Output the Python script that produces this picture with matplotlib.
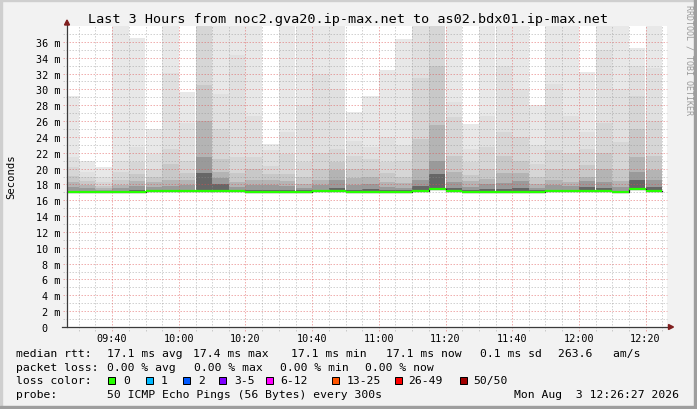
import numpy as np
import pandas as pd
import matplotlib
matplotlib.use("Agg")
import matplotlib.pyplot as plt
import matplotlib.dates as mdates
from matplotlib.patches import Rectangle, Polygon
from matplotlib.lines import Line2D

W, H = 697, 410
MONO = "DejaVu Sans Mono"

# ---- data ----
t_end = pd.Timestamp("2026-08-03 12:26:27")
t_begin = t_end - pd.Timedelta(hours=3)
slot_start = pd.date_range("2026-08-03 09:25", periods=36, freq="5min")

median_rtt = [17.06, 17.06, 17.06, 17.06, 17.06, 17.16, 17.16, 17.16, 17.2, 17.2,
              17.2, 17.08, 17.08, 17.08, 17.08, 17.18, 17.18, 17.08, 17.08, 17.08,
              17.08, 17.16, 17.42, 17.14, 17.08, 17.08, 17.08, 17.08, 17.08, 17.14,
              17.14, 17.14, 17.14, 17.04, 17.36, 17.14]
ping_min = [16.96, 16.96, 16.96, 16.96, 16.96, 17.06, 17.06, 17.06, 17.1, 17.1,
            17.1, 16.98, 16.98, 16.98, 16.98, 17.08, 17.08, 16.98, 16.98, 16.98,
            16.98, 17.06, 17.3, 17.04, 16.98, 16.98, 16.98, 16.98, 16.98, 17.04,
            17.04, 17.04, 17.04, 16.94, 17.26, 17.04]

# upper edges of the smoke bands, outermost (max ping) to innermost
smoke1 = [29.1, 20.9, 20.2, 39, 36.5, 25.0, 39, 29.7, 39, 39,
          39, 39, 23.1, 39, 39, 39, 39, 27.2, 29.1, 32.4,
          36.3, 39, 39, 39, 25.6, 39, 39, 39, 28.05, 39,
          39, 32.2, 39, 39, 35.2, 39]
smoke2 = [21.5, 19.6, 19.0, 21.0, 22.7, 21.8, 32.1, 25.8, 39, 29.4,
          34.4, 26.7, 22.3, 24.6, 28.0, 31.9, 30.0, 23.5, 22.7, 24.0,
          23.0, 38.0, 39, 28.4, 22.5, 26.7, 33.0, 30.0, 23.0, 30.7,
          26.7, 24.6, 35.0, 30.0, 33.0, 32.7]
smoke3 = [20.2, 19.0, 18.3, 19.6, 20.8, 20.0, 22.5, 21.0, 39, 25.0,
          21.5, 21.5, 20.3, 21.8, 20.8, 22.0, 22.5, 21.6, 21.2, 20.8,
          21.0, 31.4, 39, 26.5, 20.8, 22.7, 24.6, 24.0, 20.6, 22.3,
          22.0, 22.5, 25.8, 23.3, 29.1, 26.0]
smoke4 = [19.1, 18.4, 17.8, 18.5, 19.3, 18.9, 20.6, 19.5, 30.5, 21.2,
          19.4, 19.9, 19.3, 19.3, 19.0, 19.9, 20.8, 19.9, 20.0, 19.4,
          19.0, 23.7, 33.0, 21.6, 19.2, 20.0, 21.6, 21.0, 19.0, 20.0,
          19.9, 20.5, 22.0, 19.9, 25.0, 21.6]
smoke5 = [18.3, 17.9, 17.5, 17.9, 18.4, 18.3, 18.6, 18.6, 26.0, 19.6,
          18.3, 18.6, 18.5, 18.4, 18.1, 18.6, 19.8, 18.8, 18.9, 18.3,
          18.2, 20.0, 25.5, 19.6, 18.4, 18.7, 19.4, 19.5, 18.1, 18.6,
          18.3, 19.0, 19.9, 18.4, 21.5, 19.8]
smoke6 = [17.7, 17.5, 17.3, 17.5, 17.8, 17.7, 17.8, 17.9, 21.5, 18.8,
          17.7, 17.9, 17.9, 17.8, 17.6, 17.9, 18.5, 17.9, 18.0, 17.7,
          17.6, 18.6, 21.0, 18.3, 17.7, 18.0, 18.2, 18.4, 17.6, 17.9,
          17.8, 18.4, 18.3, 17.7, 19.6, 18.6]
smoke7 = [17.2, 17.2, 17.1, 17.2, 17.3, 17.3, 17.3, 17.3, 19.5, 18.1,
          17.3, 17.3, 17.3, 17.3, 17.25, 17.3, 17.5, 17.3, 17.4, 17.3,
          17.25, 17.8, 19.3, 17.6, 17.3, 17.4, 17.4, 17.6, 17.3, 17.3,
          17.3, 17.7, 17.5, 17.2, 18.5, 17.7]
smoke_bands = [smoke1, smoke2, smoke3, smoke4, smoke5, smoke6, smoke7]
smoke_shades = ["#e8e8e8", "#e0e0e0", "#d6d6d6", "#c8c8c8", "#b4b4b4", "#9a9a9a", "#666666"]

y_ticks = list(range(0, 37, 2))
y_labels = ["0  "] + [f"{v} m" for v in y_ticks[1:]]

loss_labels = ["0", "1", "2", "3-5", "6-12", "13-25", "26-49", "50/50"]
loss_colors = ["#26ff00", "#00b8ff", "#0059ff", "#7e00ff", "#ff00ff", "#ff5500", "#ff0000", "#a10000"]
loss_box_x = [107.5, 145.5, 182.5, 219, 265.5, 332, 394.5, 459.5]
loss_text_x = [123, 161, 198, 234.5, 280.5, 346.5, 408.5, 473.5]

rtt_row = [("median rtt:", 16), ("17.1 ms avg", 107), ("17.4 ms max", 193.5),
           ("17.1 ms min", 291), ("17.1 ms now", 386), ("0.1 ms sd", 480),
           ("263.6   am/s", 558.5)]
loss_row = [("packet loss:", 16), ("0.00 % avg", 107), ("0.00 % max", 194.5),
            ("0.00 % min", 280), ("0.00 % now", 365)]

# ---- figure ----
fig = plt.figure(figsize=(W / 100, H / 100), dpi=100, facecolor="#f2f2f2")


def fx(x):
    return x / W


def fy(y):
    return 1 - y / H


# 3d frame
fig.patches.append(Rectangle((0, fy(2)), 1, 2 / H, transform=fig.transFigure, color="#cfcfcf", zorder=0))
fig.patches.append(Rectangle((0, 0), 2 / W, 1, transform=fig.transFigure, color="#cfcfcf", zorder=0))
fig.patches.append(Rectangle((0, 0), 1, 3 / H, transform=fig.transFigure, color="#9e9e9e", zorder=0))
fig.patches.append(Rectangle((fx(W - 3), 0), 3 / W, 1, transform=fig.transFigure, color="#9e9e9e", zorder=0))

ax = fig.add_axes([fx(67), fy(328), 600 / W, 301 / H])
ax.set_facecolor("white")
for s in ax.spines.values():
    s.set_visible(False)

xs = mdates.date2num(slot_start.to_pydatetime())
step = 5 / 1440.0

for band, shade in zip(smoke_bands, smoke_shades):
    top = np.array(band)
    lo = np.array(ping_min)
    ax.bar(xs, top - lo, bottom=lo, width=step, align="edge", color=shade,
           linewidth=0, antialiased=False, zorder=1)

ax.set_xlim(mdates.date2num(t_begin.to_pydatetime()), mdates.date2num(t_end.to_pydatetime()))
ax.set_ylim(0, 38)

# dotted grid, grey minor / red major
ext_x = 4 / 600
ext_y = 4 / 301
minor_kw = dict(color="#8f8f8f", alpha=0.4, lw=0.72, linestyle=(0, (1.5, 1.5)),
                clip_on=False, snap=True, zorder=2)
major_kw = dict(color="#de5050", alpha=0.45, lw=0.72, linestyle=(0, (1.5, 1.5)),
                clip_on=False, snap=True, zorder=2)
for v in range(1, 38):
    ax.axhline(v, xmin=-ext_x, xmax=1, **(minor_kw if v % 2 else major_kw))
grid_times = pd.date_range("2026-08-03 09:30", "2026-08-03 12:25", freq="5min")
for t in grid_times:
    xv = mdates.date2num(t.to_pydatetime())
    ax.axvline(xv, ymin=-ext_y, ymax=1, **(major_kw if t.minute % 20 == 0 else minor_kw))

# median line: dark step underneath, loss coloured segments on top
ax.step(np.append(xs, xs[-1] + step), np.append(median_rtt, median_rtt[-1]),
        where="post", color="#202020", lw=0.9, zorder=3)
ax.hlines(median_rtt, xs, xs + step, colors=loss_colors[0], lw=1.6, zorder=4)

# ticks
ax.xaxis.set_major_locator(mdates.MinuteLocator(byminute=[0, 20, 40]))
ax.xaxis.set_major_formatter(mdates.DateFormatter("%H:%M"))
ax.set_yticks(y_ticks)
ax.set_yticklabels(y_labels)
ax.tick_params(axis="both", length=0, labelsize=7.3)
ax.tick_params(axis="y", pad=4.5)
ax.tick_params(axis="x", pad=4.0)
for lab in ax.get_xticklabels() + ax.get_yticklabels():
    lab.set_family(MONO)

# axes lines and arrows
fig.lines.append(Line2D([fx(67), fx(67)], [fy(328), fy(24)], transform=fig.transFigure,
                        color="#3a3a3a", lw=0.9, zorder=5))
fig.lines.append(Line2D([fx(62), fx(669)], [fy(328), fy(328)], transform=fig.transFigure,
                        color="#3a3a3a", lw=0.9, zorder=5))
fig.patches.append(Polygon([[fx(64.5), fy(26)], [fx(69.5), fy(26)], [fx(67), fy(21)]],
                           closed=True, transform=fig.transFigure, color="#801f1f", zorder=6))
fig.patches.append(Polygon([[fx(668.5), fy(325.5)], [fx(668.5), fy(330.5)], [fx(673.5), fy(328)]],
                           closed=True, transform=fig.transFigure, color="#801f1f", zorder=6))

# titles
fig.text(fx(348), fy(19.3), "Last 3 Hours from noc2.gva20.ip-max.net to as02.bdx01.ip-max.net",
         ha="center", va="center", family=MONO, fontsize=9.7)
fig.text(fx(11), fy(177), "Seconds", rotation=90, ha="center", va="center",
         family=MONO, fontsize=7.6)
fig.text(fx(688.5), fy(5), "RRDTOOL / TOBI OETIKER", rotation=270, ha="center", va="top",
         family=MONO, fontsize=6.0, color="#9a9a9a")


def legend_text(x, y, s):
    fig.text(fx(x), fy(y), s, ha="left", va="center", family=MONO, fontsize=8.2)


for s, x in rtt_row:
    legend_text(x, 354, s)
for s, x in loss_row:
    legend_text(x, 368, s)
legend_text(16, 381.5, "loss color:")
for lab, col, bx, tx in zip(loss_labels, loss_colors, loss_box_x, loss_text_x):
    fig.patches.append(Rectangle((fx(bx), fy(385)), 7.3 / W, 7.3 / H, transform=fig.transFigure,
                                 facecolor=col, edgecolor="black", lw=0.72, zorder=5))
    legend_text(tx, 381.5, lab)
legend_text(16, 395.5, "probe:")
legend_text(107, 395.5, "50 ICMP Echo Pings (56 Bytes) every 300s")
legend_text(513.5, 395.5, "Mon Aug  3 12:26:27 2026")

fig.savefig("out.png", dpi=100, facecolor=fig.get_facecolor())
